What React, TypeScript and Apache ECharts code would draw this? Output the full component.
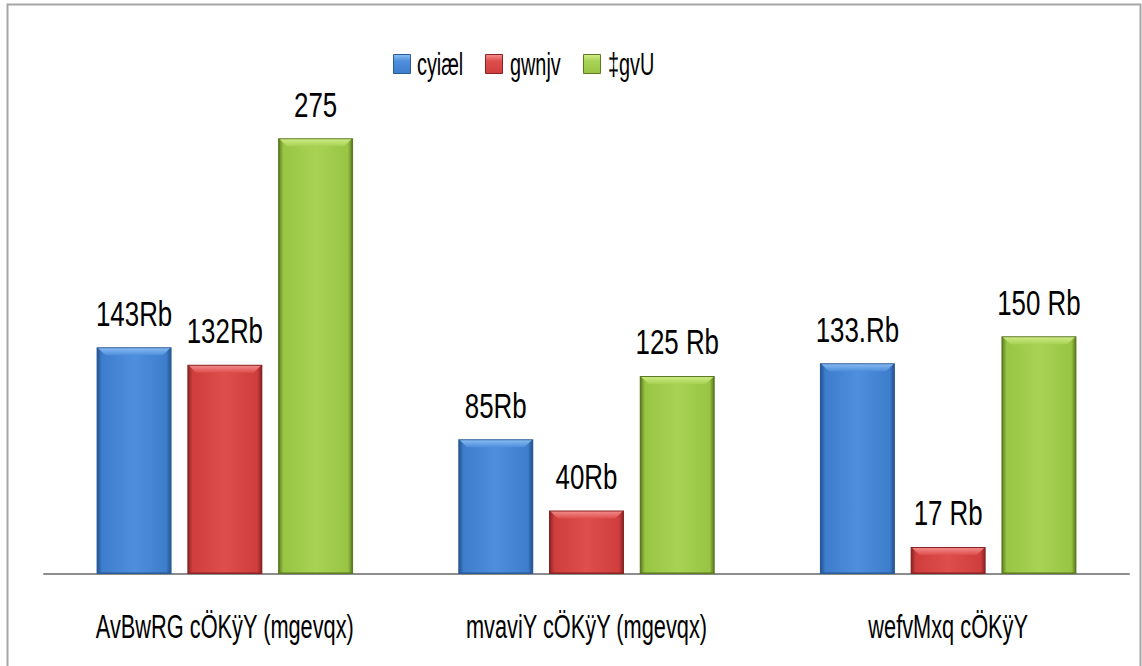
import React, { useEffect, useRef } from "react";
import * as echarts from "echarts";

const categories = ["AvBwRG cÖKÿY (mgevqx)", "mvaviY cÖKÿY (mgevqx)", "wefvMxq cÖKÿY"];
const seriesNames = ["cyiæl", "gwnjv", "‡gvU"];
const maleValues = [143, 85, 133];
const femaleValues = [132, 40, 17];
const totalValues = [275, 125, 150];
const maleLabels = ["143Rb", "85Rb", "133.Rb"];
const femaleLabels = ["132Rb", "40Rb", "17 Rb"];
const totalLabels = ["275", "125 Rb", "150 Rb"];

const FONT = "'Liberation Sans', Arial, sans-serif";

const palette = [
  { light: "#4f8edc", mid: "#3d7dcc", dark: "#24538f", border: "#2a5a98", top: "#8cc0f5" },
  { light: "#dd4e4c", mid: "#cf3e3c", dark: "#8e2626", border: "#8a2424", top: "#f59090" },
  { light: "#a8d254", mid: "#98c544", dark: "#5f7f22", border: "#5c7a22", top: "#d2ef8a" },
];

function barGradient(c: any) {
  return new echarts.graphic.LinearGradient(0, 0, 1, 0, [
    { offset: 0, color: c.dark },
    { offset: 0.06, color: c.mid },
    { offset: 0.5, color: c.light },
    { offset: 0.94, color: c.mid },
    { offset: 1, color: c.dark },
  ]);
}

function iconGradient(c: any) {
  return new echarts.graphic.LinearGradient(0, 0, 0, 1, [
    { offset: 0, color: c.top },
    { offset: 0.35, color: c.light },
    { offset: 1, color: c.mid },
  ]);
}

function bevelGradient(c: any) {
  return new echarts.graphic.LinearGradient(0, 0, 0, 1, [
    { offset: 0, color: c.top },
    { offset: 1, color: c.light },
  ]);
}

export default function App() {
  const ref = useRef<HTMLDivElement>(null);
  useEffect(() => {
    if (!ref.current) return;
    const chart = echarts.init(ref.current, undefined, { renderer: "svg" });
    const valueSets = [maleValues, femaleValues, totalValues];
    const labelSets = [maleLabels, femaleLabels, totalLabels];
    const mkSeries = (s: number) => ({
      name: seriesNames[s],
      type: "bar",
      barWidth: 75,
      barGap: "21%",
      data: valueSets[s],
      itemStyle: { color: barGradient(palette[s]), borderColor: palette[s].border, borderWidth: 1.5 },
      label: { show: false },
    });
    chart.setOption({
      animation: false,
      backgroundColor: "#fff",
      grid: { left: 44, right: 13, top: 98.5, bottom: 92, containLabel: false },
      xAxis: {
        type: "category",
        data: categories,
        axisLine: { show: true, lineStyle: { color: "#8c8c8c", width: 2 } },
        axisTick: { show: false },
        axisLabel: { show: false },
      },
      yAxis: { type: "value", min: 0, max: 300, show: false, splitLine: { show: false } },
      series: [mkSeries(0), mkSeries(1), mkSeries(2)],
    });

    const graphics: any[] = [
      {
        type: "rect",
        shape: { x: 7.5, y: 4.5, width: 1133, height: 680 },
        style: { fill: "none", stroke: "#a6a6a6", lineWidth: 2 },
        silent: true,
        z: -1,
      },
    ];

    const model = (chart as any).getModel();
    for (let s = 0; s < 3; s++) {
      const data = model.getSeriesByIndex(s).getData();
      for (let i = 0; i < valueSets[s].length; i++) {
        const lay = data.getItemLayout(i);
        const x0 = lay.x;
        const w = lay.width;
        const cx = x0 + w / 2;
        const top = Math.min(lay.y, lay.y + lay.height);
        graphics.push({
          type: "polygon",
          silent: true,
          z: 20,
          shape: {
            points: [
              [x0 + 1.5, top + 1],
              [x0 + w - 1.5, top + 1],
              [x0 + w - 9, top + 8],
              [x0 + 9, top + 8],
            ],
          },
          style: { fill: bevelGradient(palette[s]), opacity: 0.9 },
        });
        graphics.push({
          type: "text",
          x: cx,
          y: top - 16,
          scaleX: 0.74,
          silent: true,
          z: 20,
          style: {
            text: labelSets[s][i],
            x: 0,
            y: 0,
            align: "center",
            verticalAlign: "bottom",
            font: `35px ${FONT}`,
            fill: "#000",
          },
        });
      }
    }

    categories.forEach((c) => {
      const px = chart.convertToPixel({ xAxisIndex: 0 }, c) as number;
      graphics.push({
        type: "text",
        x: px,
        y: 627,
        scaleX: 0.66,
        silent: true,
        z: 20,
        style: {
          text: c,
          x: 0,
          y: 0,
          align: "center",
          verticalAlign: "middle",
          font: `33px ${FONT}`,
          fill: "#000",
        },
      });
    });

    const legendIconX = [393, 485, 583];
    const legendTextX = [417, 510, 608];
    seriesNames.forEach((n, s) => {
      graphics.push({
        type: "rect",
        silent: true,
        z: 20,
        shape: { x: legendIconX[s] + 0.5, y: 54.5, width: 17, height: 19 },
        style: { fill: iconGradient(palette[s]), stroke: palette[s].border, lineWidth: 1 },
      });
      graphics.push({
        type: "text",
        x: legendTextX[s],
        y: 64,
        scaleX: 0.64,
        silent: true,
        z: 20,
        style: {
          text: n,
          x: 0,
          y: 0,
          align: "left",
          verticalAlign: "middle",
          font: `31px ${FONT}`,
          fill: "#000",
        },
      });
    });

    chart.setOption({ graphic: graphics });
    return () => chart.dispose();
  }, []);
  return <div ref={ref} style={{ position: "fixed", left: 0, top: 0, width: 1142, height: 666 }} />;
}
